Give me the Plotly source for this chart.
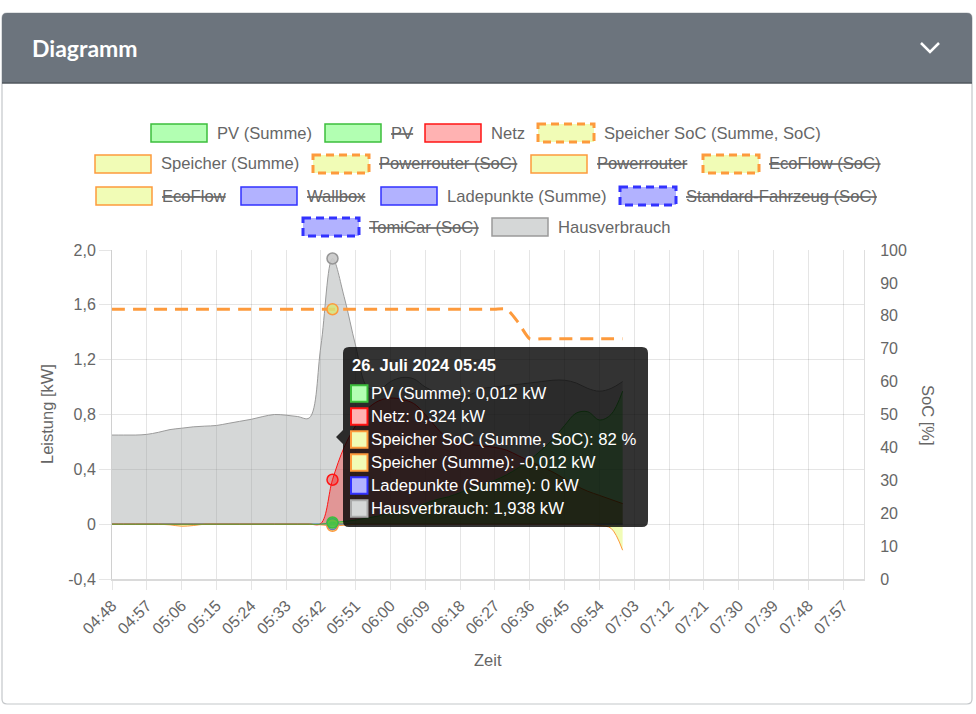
import plotly.graph_objects as go

W, H = 976, 714

# ---------------- data ----------------
date = "2024-07-26"
date_label = "26. Juli 2024"
times = ["04:48", "04:51", "04:54", "04:57", "05:00", "05:03", "05:06", "05:09", "05:12", "05:15",
         "05:18", "05:21", "05:24", "05:27", "05:30", "05:33", "05:36", "05:39", "05:42", "05:45",
         "05:48", "05:51", "05:54", "05:57", "06:00", "06:03", "06:06", "06:09", "06:12", "06:15",
         "06:18", "06:21", "06:24", "06:27", "06:30", "06:33", "06:36", "06:39", "06:42", "06:45",
         "06:48", "06:51", "06:54", "06:57", "07:00"]

pv_summe = [0, 0, 0, 0, 0, 0, 0, 0, 0, 0,
            0, 0, 0, 0, 0, 0, 0, 0, 0, 0.012,
            0.02, 0.03, 0.045, 0.06, 0.08, 0.10, 0.12, 0.15, 0.18, 0.20,
            0.23, 0.26, 0.29, 0.32, 0.36, 0.41, 0.47, 0.54, 0.62, 0.72,
            0.81, 0.82, 0.76, 0.80, 0.97]

netz = [0, 0, 0, 0, 0, 0, 0, 0, 0, 0,
        0, 0, 0, 0, 0, 0, 0, 0, 0.005, 0.324,
        0.56, 0.72, 0.84, 0.90, 0.92, 0.91, 0.88, 0.80, 0.70, 0.62,
        0.59, 0.58, 0.57, 0.56, 0.54, 0.50, 0.46, 0.42, 0.38, 0.33,
        0.28, 0.24, 0.21, 0.18, 0.15]

speicher_soc = [82, 82, 82, 82, 82, 82, 82, 82, 82, 82,
                82, 82, 82, 82, 82, 82, 82, 82, 82, 82,
                82, 82, 82, 82, 82, 82, 82, 82, 82, 82,
                82, 82, 82, 82, 82, 78, 73, 73, 73, 73,
                73, 73, 73, 73, 73]

speicher_summe = [0, 0, 0, 0, 0, -0.005, -0.015, -0.01, 0, 0,
                  0, 0, 0, 0, 0, 0, 0, 0, -0.005, -0.012,
                  -0.008, 0, 0, 0, 0, 0, 0, 0, 0, 0,
                  0, 0, 0, 0, 0, 0, 0, 0, 0, 0,
                  0, 0, -0.01, -0.03, -0.19]

ladepunkte = [0, 0, 0, 0, 0, 0, 0, 0, 0, 0,
              0, 0, 0, 0, 0, 0, 0, 0, 0, 0,
              0, 0, 0, 0, 0, 0, 0, 0, 0, 0,
              0, 0, 0, 0, 0, 0, 0, 0, 0, 0,
              0, 0, 0, 0, 0]

hausverbrauch = [0.65, 0.65, 0.65, 0.655, 0.67, 0.69, 0.70, 0.71, 0.715, 0.72,
                 0.735, 0.75, 0.765, 0.785, 0.80, 0.795, 0.785, 0.775, 1.30, 1.938,
                 1.66, 1.30, 1.00, 0.98, 1.04, 1.07, 1.06, 1.00, 0.96, 0.94,
                 0.93, 0.95, 0.99, 1.00, 1.01, 1.02, 1.03, 1.04, 1.05, 1.05,
                 1.03, 0.99, 0.97, 0.99, 1.04]

hover_time = "05:45"

x_tick_labels = ["04:48", "04:57", "05:06", "05:15", "05:24", "05:33", "05:42", "05:51", "06:00",
                 "06:09", "06:18", "06:27", "06:36", "06:45", "06:54", "07:03", "07:12", "07:21",
                 "07:30", "07:39", "07:48", "07:57"]
y_tick_vals = [-0.4, 0, 0.4, 0.8, 1.2, 1.6, 2.0]
y_tick_text = ["-0,4", "0", "0,4", "0,8", "1,2", "1,6", "2,0"]
soc_tick_vals = [0, 10, 20, 30, 40, 50, 60, 70, 80, 90, 100]

legend_labels = ["PV (Summe)", "PV", "Netz", "Speicher SoC (Summe, SoC)",
                 "Speicher (Summe)", "Powerrouter (SoC)", "Powerrouter", "EcoFlow (SoC)",
                 "EcoFlow", "Wallbox", "Ladepunkte (Summe)", "Standard-Fahrzeug (SoC)",
                 "TomiCar (SoC)", "Hausverbrauch"]
legend_hidden = [False, True, False, False, False, True, True, True, True, True, False, True, True, False]
legend_kind = ["pv", "pv", "netz", "soc", "sp", "soc", "sp", "soc", "sp", "lp", "lp", "lpsoc", "lpsoc", "haus"]

# ---------------- styles ----------------
FONT = "Liberation Sans, Arial, sans-serif"
TXT = "#666666"
GREEN_F, GREEN_L = "rgba(0,255,0,0.3)", "rgb(60,190,60)"
RED_F, RED_L = "rgba(255,0,0,0.3)", "rgb(255,20,20)"
YEL_F, ORA_L = "rgba(215,245,45,0.35)", "rgb(253,154,60)"
BLUE_F, BLUE_L = "rgba(0,0,255,0.3)", "rgb(50,50,255)"
GRAY_F, GRAY_L = "rgba(150,155,155,0.4)", "rgb(155,155,155)"
kind_style = {
    "pv": (GREEN_F, GREEN_L, False),
    "netz": (RED_F, RED_L, False),
    "soc": (YEL_F, ORA_L, True),
    "sp": (YEL_F, ORA_L, False),
    "lp": (BLUE_F, BLUE_L, False),
    "lpsoc": (BLUE_F, BLUE_L, True),
    "haus": (GRAY_F, GRAY_L, False),
}


def PX(x):
    return x / W


def PY(y):
    return 1 - y / H


xs = [f"{date} {t}:00" for t in times]
hi = times.index(hover_time)

fig = go.Figure()


def area(y, fill, line, name):
    fig.add_trace(go.Scatter(x=xs, y=y, mode="lines", name=name, fill="tozeroy",
                             fillcolor=fill, line=dict(color=line, width=1, shape="spline", smoothing=1),
                             hoverinfo="skip", showlegend=False))


area(hausverbrauch, GRAY_F, GRAY_L, "Hausverbrauch")
area(ladepunkte, BLUE_F, BLUE_L, "Ladepunkte (Summe)")
area(speicher_summe, YEL_F, ORA_L, "Speicher (Summe)")
area(netz, RED_F, RED_L, "Netz")
area(pv_summe, GREEN_F, GREEN_L, "PV (Summe)")
fig.add_trace(go.Scatter(x=xs, y=speicher_soc, yaxis="y2", mode="lines", name="Speicher SoC (Summe, SoC)",
                         line=dict(color=ORA_L, width=3, dash="13px,8px", shape="spline", smoothing=0.6),
                         hoverinfo="skip", showlegend=False))


# hover highlight points
def hpoint(y, fill, line, axis="y"):
    fig.add_trace(go.Scatter(x=[xs[hi]], y=[y[hi]], yaxis=axis, mode="markers",
                             marker=dict(size=11, color=fill, line=dict(color=line, width=1.5)),
                             hoverinfo="skip", showlegend=False))


hpoint(hausverbrauch, "rgba(200,200,200,0.9)", "rgb(150,150,150)")
hpoint(ladepunkte, BLUE_F, BLUE_L)
hpoint(speicher_summe, YEL_F, ORA_L)
hpoint(netz, RED_F, RED_L)
hpoint(pv_summe, "rgba(60,200,60,0.8)", GREEN_L)
hpoint(speicher_soc, "rgba(215,230,120,0.8)", ORA_L, "y2")

shapes = []
annotations = []


# ---------------- card & header ----------------
def rrect(x0, y0, x1, y1, r, top_only=False):
    rb = 0 if top_only else r
    p = (f"M {PX(x0 + r)},{PY(y0)} L {PX(x1 - r)},{PY(y0)} Q {PX(x1)},{PY(y0)} {PX(x1)},{PY(y0 + r)} "
         f"L {PX(x1)},{PY(y1 - rb)} Q {PX(x1)},{PY(y1)} {PX(x1 - rb)},{PY(y1)} "
         f"L {PX(x0 + rb)},{PY(y1)} Q {PX(x0)},{PY(y1)} {PX(x0)},{PY(y1 - rb)} "
         f"L {PX(x0)},{PY(y0 + r)} Q {PX(x0)},{PY(y0)} {PX(x0 + r)},{PY(y0)} Z")
    return p


shapes.append(dict(type="path", xref="paper", yref="paper", path=rrect(2, 13, 972, 704, 5),
                   line=dict(color="#c4c7ca", width=1.2), fillcolor="white", layer="below"))
shapes.append(dict(type="path", xref="paper", yref="paper", path=rrect(2, 13, 972, 83, 5, top_only=True),
                   line=dict(width=0), fillcolor="#6c747d", layer="below"))
shapes.append(dict(type="line", xref="paper", yref="paper", x0=PX(2), x1=PX(972), y0=PY(83), y1=PY(83),
                   line=dict(color="#50575e", width=1.5), layer="below"))
shapes.append(dict(type="path", xref="paper", yref="paper",
                   path=f"M {PX(921)},{PY(43)} L {PX(930)},{PY(52)} L {PX(939)},{PY(43)}",
                   line=dict(color="white", width=2.5)))
annotations.append(dict(text="<b>Diagramm</b>", x=PX(30), y=PY(48), xref="paper", yref="paper",
                        xanchor="left", yanchor="middle", showarrow=False,
                        font=dict(family="Lato, Open Sans, sans-serif", size=23, color="white")))

# ---------------- custom legend ----------------
legend_rows = [0, 0, 0, 0, 1, 1, 1, 1, 2, 2, 2, 2, 3, 3]
legend_box_x = [151, 325, 425, 538, 95, 313, 531, 703, 96, 241, 381, 620, 303, 492]
row_y = [133, 164, 196, 227]
for lab, hid, kind, r, bx in zip(legend_labels, legend_hidden, legend_kind, legend_rows, legend_box_x):
    fill, line, dashed = kind_style[kind]
    cy = row_y[r]
    shapes.append(dict(type="rect", xref="paper", yref="paper", x0=PX(bx), x1=PX(bx + 56),
                       y0=PY(cy - 9), y1=PY(cy + 9), fillcolor=fill,
                       line=dict(color=line, width=3 if dashed else 1.5, dash="8px,5px" if dashed else "solid")))
    annotations.append(dict(text=(f"<s>{lab}</s>" if hid else lab), x=PX(bx + 64), y=PY(cy),
                            xref="paper", yref="paper", xanchor="left", yanchor="middle", showarrow=False,
                            font=dict(family=FONT, size=16.6, color=TXT)))

# ---------------- axis titles ----------------
annotations.append(dict(text="Leistung [kW]", x=PX(47), y=PY(414), xref="paper", yref="paper",
                        xanchor="center", yanchor="middle",
                        textangle=-90, showarrow=False, font=dict(family=FONT, size=16.5, color=TXT)))
annotations.append(dict(text="SoC [%]", x=PX(928), y=PY(415), xref="paper", yref="paper",
                        xanchor="center", yanchor="middle",
                        textangle=90, showarrow=False, font=dict(family=FONT, size=16.5, color=TXT)))
annotations.append(dict(text="Zeit", x=PX(488), y=PY(660), xref="paper", yref="paper",
                        xanchor="center", yanchor="middle",
                        showarrow=False, font=dict(family=FONT, size=16.5, color=TXT)))

# ---------------- tooltip ----------------
tx0, ty0, tx1, ty1, tr = 343, 347, 648, 527, 6
tip_path = (f"M {PX(tx0 + tr)},{PY(ty0)} L {PX(tx1 - tr)},{PY(ty0)} Q {PX(tx1)},{PY(ty0)} {PX(tx1)},{PY(ty0 + tr)} "
            f"L {PX(tx1)},{PY(ty1 - tr)} Q {PX(tx1)},{PY(ty1)} {PX(tx1 - tr)},{PY(ty1)} "
            f"L {PX(tx0 + tr)},{PY(ty1)} Q {PX(tx0)},{PY(ty1)} {PX(tx0)},{PY(ty1 - tr)} "
            f"L {PX(tx0)},{PY(444)} L {PX(336)},{PY(437)} L {PX(tx0)},{PY(430)} "
            f"L {PX(tx0)},{PY(ty0 + tr)} Q {PX(tx0)},{PY(ty0)} {PX(tx0 + tr)},{PY(ty0)} Z")
shapes.append(dict(type="path", xref="paper", yref="paper", path=tip_path,
                   fillcolor="rgba(0,0,0,0.8)", line=dict(width=0), layer="above"))


def fmt(v):
    s = f"{v:.3f}".rstrip("0").rstrip(".")
    if s == "-0":
        s = "0"
    return s.replace(".", ",")


tip_rows = [
    ("PV (Summe)", fmt(pv_summe[hi]) + " kW", "rgb(179,255,179)", GREEN_L),
    ("Netz", fmt(netz[hi]) + " kW", "rgb(255,179,179)", RED_L),
    ("Speicher SoC (Summe, SoC)", fmt(speicher_soc[hi]) + " %", "rgb(241,251,181)", ORA_L),
    ("Speicher (Summe)", fmt(speicher_summe[hi]) + " kW", "rgb(241,251,181)", ORA_L),
    ("Ladepunkte (Summe)", fmt(ladepunkte[hi]) + " kW", "rgb(179,179,255)", BLUE_L),
    ("Hausverbrauch", fmt(hausverbrauch[hi]) + " kW", "rgb(213,215,215)", "rgb(170,170,170)"),
]
annotations.append(dict(text=f"<b>{date_label} {hover_time}</b>", x=PX(350), y=PY(365), xref="paper",
                        yref="paper", xanchor="left", yanchor="middle", showarrow=False,
                        font=dict(family=FONT, size=16.5, color="white")))
for i, (lab, val, bf, bl) in enumerate(tip_rows):
    cy = 393.5 + i * 23.0
    shapes.append(dict(type="rect", xref="paper", yref="paper", x0=PX(351), x1=PX(367.5),
                       y0=PY(cy - 8.3), y1=PY(cy + 8.3), fillcolor=bf, line=dict(color=bl, width=2),
                       layer="above"))
    annotations.append(dict(text=f"{lab}: {val}", x=PX(369), y=PY(cy), xref="paper", yref="paper",
                            xanchor="left", yanchor="middle", showarrow=False,
                            font=dict(family=FONT, size=16.7, color="white")))

# ---------------- layout ----------------
tick_dates = [f"{date} {t}:00" for t in x_tick_labels]
fig.update_layout(
    width=W, height=H, margin=dict(l=0, r=0, t=0, b=0, pad=0, autoexpand=False),
    paper_bgcolor="white", plot_bgcolor="rgba(0,0,0,0)",
    font=dict(family=FONT, size=16, color=TXT),
    showlegend=False,
    xaxis=dict(domain=[PX(112), PX(864)], type="date", automargin=False,
               range=[f"{date} 04:48:00", f"{date} 08:02:24"],
               tickmode="array", tickvals=tick_dates, ticktext=x_tick_labels, tickangle=-45,
               showgrid=True, gridcolor="rgba(0,0,0,0.1)", gridwidth=1,
               ticks="outside", ticklen=9, tickcolor="rgba(0,0,0,0.1)",
               showline=True, linecolor="#dadada", linewidth=2,
               tickfont=dict(size=16, color=TXT), zeroline=False, fixedrange=True),
    yaxis=dict(domain=[PY(579), PY(250)], range=[-0.4, 2.0], tickmode="array", automargin=False,
               tickvals=y_tick_vals, ticktext=y_tick_text,
               showgrid=True, gridcolor="rgba(0,0,0,0.1)", gridwidth=1,
               ticks="outside", ticklen=12, tickcolor="rgba(0,0,0,0.1)",
               showline=True, linecolor="#d0d0d0", linewidth=1,
               zeroline=False, tickfont=dict(size=16, color=TXT), fixedrange=True),
    yaxis2=dict(overlaying="y", side="right", anchor="x", range=[0, 100], tickmode="array", automargin=False,
                tickvals=soc_tick_vals, showgrid=False, zeroline=False,
                ticks="outside", ticklen=12, tickcolor="rgba(0,0,0,0)",
                showline=True, linecolor="#dedede", linewidth=1,
                tickfont=dict(size=16, color=TXT), fixedrange=True),
    shapes=shapes, annotations=annotations,
)

fig.write_html("out.html", config={"displayModeBar": False},
               post_script="document.body.style.margin='0';document.body.style.overflow='hidden';")
